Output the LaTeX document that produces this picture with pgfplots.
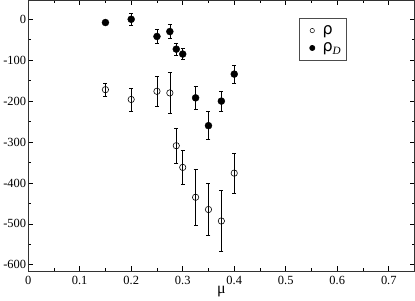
\documentclass[border=0pt]{standalone}
\usepackage{pgfplots}
\pgfplotsset{compat=1.18}
\usepackage{fontspec}
\setmainfont{Liberation Serif}
\newfontfamily\symfont{DejaVu Sans}
\pgfplotsset{
  openleg/.style={legend image code/.code={\path (0,-4pt) (18pt,4pt); \draw[##1,mark size=2.2pt,line width=0.5pt] plot coordinates {(9pt,0pt)};}},
  fillleg/.style={legend image code/.code={\path (0,-4pt) (18pt,4pt); \draw[##1,mark size=2.6pt] plot coordinates {(9pt,0pt)};}},
}
\begin{document}
\begin{tikzpicture}
\begin{axis}[
  scale only axis,
  width=388pt, height=272pt,
  xmin=0, xmax=0.75, ymin=-616, ymax=46,
  xtick={0,0.1,...,0.71},
  xticklabels={0,0.1,0.2,0.3,0.4,0.5,0.6,0.7},
  minor xtick={0.05,0.15,...,0.75},
  ytick={-600,-500,...,0},
  yticklabels={-600,-500,-400,-300,-200,-100,0},
  minor ytick={-550,-450,...,0},
  tick align=inside,
  major tick length=5pt, minor tick length=3pt,
  every tick/.style={black, line width=0.6pt},
  axis line style={line width=0.9pt, black!80},
  font=\fontsize{12.5}{15}\selectfont,
  yticklabel style={xshift=1.5pt},
  xticklabel style={yshift=-1pt},
  xlabel={\fontsize{16}{17}\selectfont μ},
  xlabel style={yshift=5pt},
  legend style={at={(0.70,0.935)}, anchor=north west, draw=black!70, line width=0.7pt,
    font=\fontsize{16}{18}\selectfont, row sep=5pt, inner xsep=4pt, inner ysep=6pt,
    nodes={inner sep=1pt}},
  legend cell align=left,
]
\addplot[only marks, mark=o, mark size=3.2pt, black, line width=0.6pt, openleg,
  error bars/.cd, y dir=both, y explicit, error bar style={line width=0.6pt},
  error mark options={rotate=90, mark size=2pt, line width=0.6pt}]
  coordinates {
  (0.15,-172) +- (0,16)
  (0.2,-196) +- (0,28)
  (0.25,-176) +- (0,37)
  (0.275,-180) +- (0,50)
  (0.2875,-309) +- (0,42)
  (0.3,-362) +- (0,42)
  (0.325,-435) +- (0,68)
  (0.35,-465) +- (0,63)
  (0.375,-493) +- (0,74)
  (0.4,-376) +- (0,49)
  };
\addlegendentry{\symfont ρ}
\addplot[only marks, mark=*, mark size=3.5pt, black, fillleg,
  error bars/.cd, y dir=both, y explicit, error bar style={line width=0.6pt},
  error mark options={rotate=90, mark size=2pt, line width=0.6pt}]
  coordinates {
  (0.15,-8) +- (0,5)
  (0.2,0) +- (0,15)
  (0.25,-42) +- (0,17)
  (0.275,-30) +- (0,17)
  (0.2875,-73) +- (0,15)
  (0.3,-85) +- (0,13)
  (0.325,-192) +- (0,27)
  (0.35,-260) +- (0,34)
  (0.375,-200) +- (0,25)
  (0.4,-134) +- (0,22)
  };
\addlegendentry{{\symfont ρ}$_{\mathit{D}}$}
\end{axis}
\end{tikzpicture}
\end{document}
